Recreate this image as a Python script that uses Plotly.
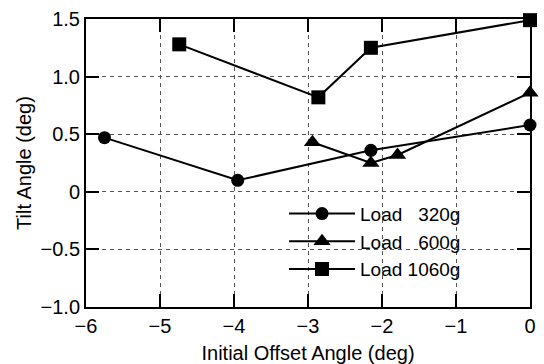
import plotly.graph_objects as go

# Data
x_320 = [-5.75, -3.95, -2.15, 0.0]
y_320 = [0.47, 0.10, 0.36, 0.58]
x_600 = [-2.94, -2.15, -1.79, 0.0]
y_600 = [0.43, 0.25, 0.32, 0.86]
x_1060 = [-4.74, -2.86, -2.15, 0.0]
y_1060 = [1.28, 0.82, 1.25, 1.49]

names = ["Load\u00a0\u00a0\u00a0320g", "Load\u00a0\u00a0\u00a0600g", "Load 1060g"]

x_ticks = [-6, -5, -4, -3, -2, -1, 0]
x_ticktext = ["\u22126", "\u22125", "\u22124", "\u22123", "\u22122", "\u22121", "0"]
y_ticks = [-1.0, -0.5, 0, 0.5, 1.0, 1.5]
y_ticktext = ["\u22121.0", "\u22120.5", "0", "0.5", "1.0", "1.5"]

FONT = "Liberation Sans, Arial, sans-serif"
FS = 20

fig = go.Figure()
series = [
    (x_320, y_320, names[0], "circle", 13),
    (x_600, y_600, names[1], "triangle-up", 15),
    (x_1060, y_1060, names[2], "square", 14),
]
for xs, ys, nm, sym, sz in series:
    fig.add_trace(go.Scatter(
        x=xs, y=ys, name=nm, mode="lines+markers",
        line=dict(color="black", width=2),
        marker=dict(symbol=sym, size=sz, color="black"),
        cliponaxis=False,
    ))

axis_common = dict(
    showline=True, linecolor="black", linewidth=2, mirror="ticks",
    ticks="inside", ticklen=13, tickwidth=2, tickcolor="black",
    showgrid=True, gridcolor="#555555", gridwidth=1, griddash="4px,4px",
    zeroline=False, automargin=False,
    tickfont=dict(family=FONT, size=FS, color="black"),
)

fig.update_xaxes(
    range=[-6, 0], tickvals=x_ticks, ticktext=x_ticktext,
    title=dict(text="Initial Offset Angle (deg)", font=dict(family=FONT, size=FS, color="black"), standoff=10),
    **axis_common,
)
fig.update_yaxes(
    range=[-1.0, 1.5], tickvals=y_ticks, ticktext=y_ticktext,
    title=dict(text="Tilt Angle (deg)", font=dict(family=FONT, size=FS, color="black"), standoff=4),
    **axis_common,
)

fig.update_layout(
    width=544, height=364,
    margin=dict(l=86, r=14, t=19, b=57),
    paper_bgcolor="white", plot_bgcolor="white",
    font=dict(family=FONT, size=FS, color="black"),
    legend=dict(
        x=0.446, y=0.39, xanchor="left", yanchor="top",
        bgcolor="rgba(0,0,0,0)", borderwidth=0,
        font=dict(family=FONT, size=19, color="black"),
        tracegroupgap=0, itemwidth=66,
    ),
    showlegend=True,
)

fig.write_html("out.html")
